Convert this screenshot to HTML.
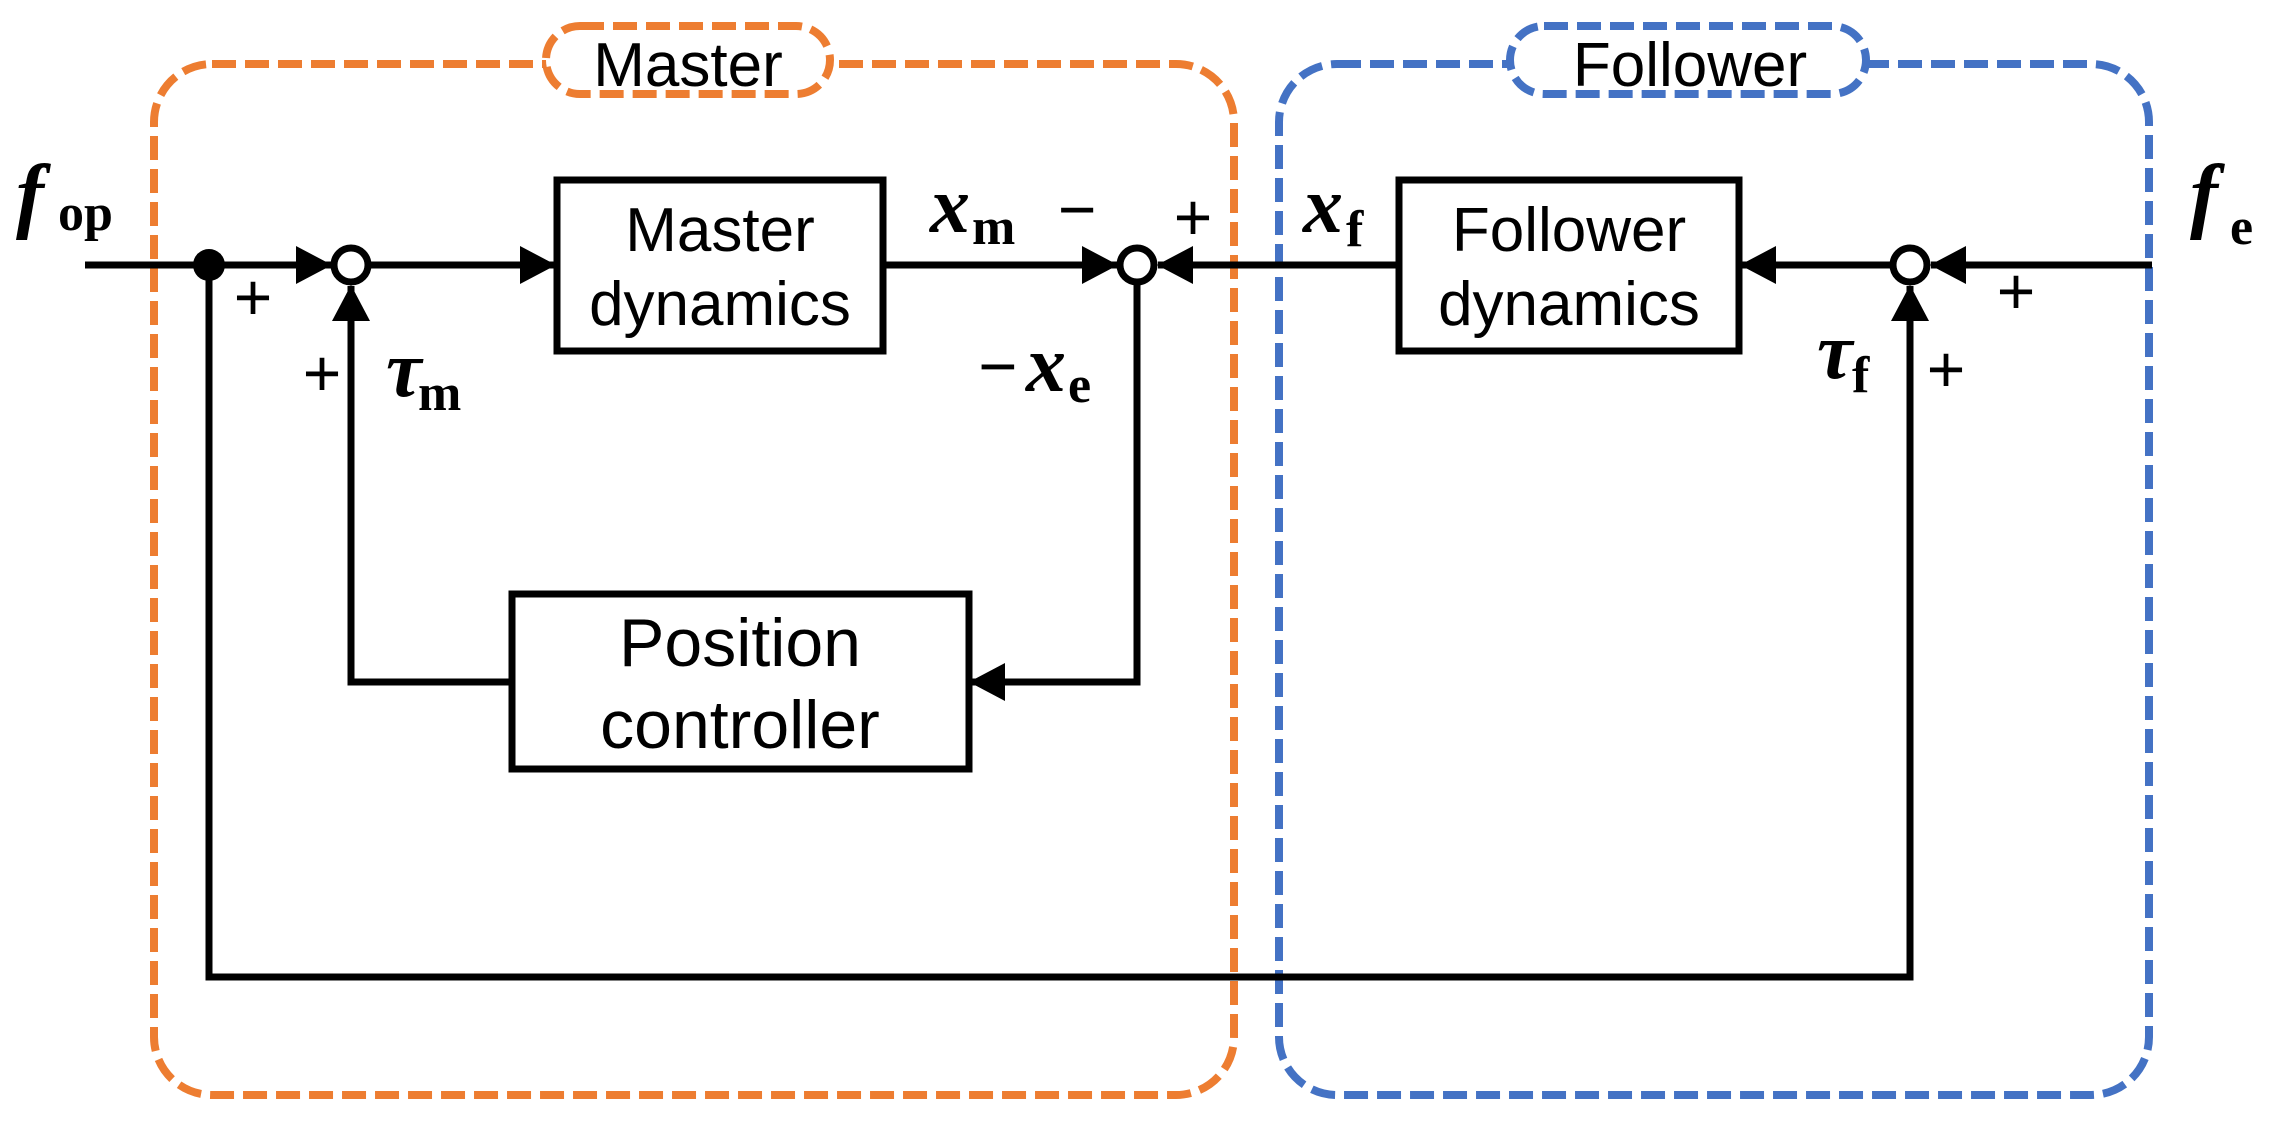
<!DOCTYPE html>
<html><head><meta charset="utf-8"><style>
html,body{margin:0;padding:0;background:#fff;}
svg{display:block;}
.t{font-family:"Liberation Sans",sans-serif;fill:#000;}
.m{font-family:"Liberation Serif",serif;font-weight:bold;fill:#000;}
</style></head><body>
<svg width="2274" height="1146" viewBox="0 0 2274 1146" xmlns="http://www.w3.org/2000/svg">
<defs>
<marker id="a" markerWidth="36" markerHeight="40" refX="35" refY="19" orient="auto" markerUnits="userSpaceOnUse">
<path d="M0,0 L36,19 L0,38 Z" fill="#000"/></marker>
</defs>
<rect x="154" y="64" width="1080" height="1031" rx="58" fill="none" stroke="#ED7D31" stroke-width="8" stroke-dasharray="24 9"/>
<rect x="1279" y="64" width="870" height="1031" rx="58" fill="none" stroke="#4472C4" stroke-width="8" stroke-dasharray="24 9"/>
<rect x="546" y="26" width="284" height="68" rx="34" fill="#fff" stroke="#ED7D31" stroke-width="8" stroke-dasharray="24 9"/>
<rect x="1510" y="26" width="356" height="68" rx="34" fill="#fff" stroke="#4472C4" stroke-width="8" stroke-dasharray="24 9"/>
<text class="t" x="688" y="86" font-size="62" text-anchor="middle">Master</text>
<text class="t" x="1690" y="86" font-size="62" text-anchor="middle">Follower</text>

<g stroke="#000" stroke-width="7" fill="none">
<line x1="85" y1="265" x2="331" y2="265" marker-end="url(#a)"/>
<line x1="371" y1="265" x2="555" y2="265" marker-end="url(#a)"/>
<line x1="884" y1="265" x2="1117" y2="265" marker-end="url(#a)"/>
<line x1="1397" y1="265" x2="1158" y2="265" marker-end="url(#a)"/>
<line x1="1890" y1="265" x2="1741" y2="265" marker-end="url(#a)"/>
<line x1="2152" y1="265" x2="1931" y2="265" marker-end="url(#a)"/>
<polyline points="1137,285 1137,682 970,682" marker-end="url(#a)"/>
<polyline points="510,682 351,682 351,286" marker-end="url(#a)"/>
<polyline points="209,265 209,977 1910,977 1910,286" marker-end="url(#a)"/>
<rect x="557" y="180" width="326" height="171"/>
<rect x="512" y="594" width="457" height="175"/>
<rect x="1399" y="180" width="340" height="171"/>
</g>
<circle cx="209" cy="265" r="16" fill="#000"/>
<g fill="#fff" stroke="#000" stroke-width="7">
<circle cx="351" cy="265" r="17"/>
<circle cx="1137" cy="265" r="17"/>
<circle cx="1910" cy="265" r="17"/>
</g>
<text class="t" x="720" y="251" font-size="62" text-anchor="middle">Master</text>
<text class="t" x="720" y="325" font-size="62" text-anchor="middle">dynamics</text>
<text class="t" x="740" y="666" font-size="68" text-anchor="middle">Position</text>
<text class="t" x="740" y="748" font-size="68" text-anchor="middle">controller</text>
<text class="t" x="1569" y="251" font-size="62" text-anchor="middle">Follower</text>
<text class="t" x="1569" y="325" font-size="62" text-anchor="middle">dynamics</text>

<text class="m" x="16" y="222" font-size="84" font-style="italic">f</text>
<text class="m" x="58" y="230" font-size="52">op</text>
<text class="m" x="930" y="232" font-size="80" font-style="italic">x</text>
<text class="m" x="972" y="244" font-size="52">m</text>
<text class="m" x="386" y="396" font-size="80" font-style="italic">τ</text>
<text class="m" x="418" y="410" font-size="52">m</text>
<text class="m" x="978" y="390" font-size="70">−</text>
<text class="m" x="1026" y="391" font-size="80" font-style="italic">x</text>
<text class="m" x="1068" y="402" font-size="52">e</text>
<text class="m" x="1303" y="232" font-size="80" font-style="italic">x</text>
<text class="m" x="1346" y="246" font-size="52">f</text>
<text class="m" x="1817" y="378" font-size="80" font-style="italic">τ</text>
<text class="m" x="1852" y="392" font-size="52">f</text>
<text class="m" x="2190" y="222" font-size="84" font-style="italic">f</text>
<text class="m" x="2230" y="244" font-size="52">e</text>

<g class="t" font-size="66" text-anchor="middle">
<text x="253" y="320">+</text>
<text x="322" y="396">+</text>
<text x="1077" y="232">−</text>
<text x="1193" y="240">+</text>
<text x="2016" y="314">+</text>
<text x="1946" y="392">+</text>
</g>
</svg>
</body></html>
